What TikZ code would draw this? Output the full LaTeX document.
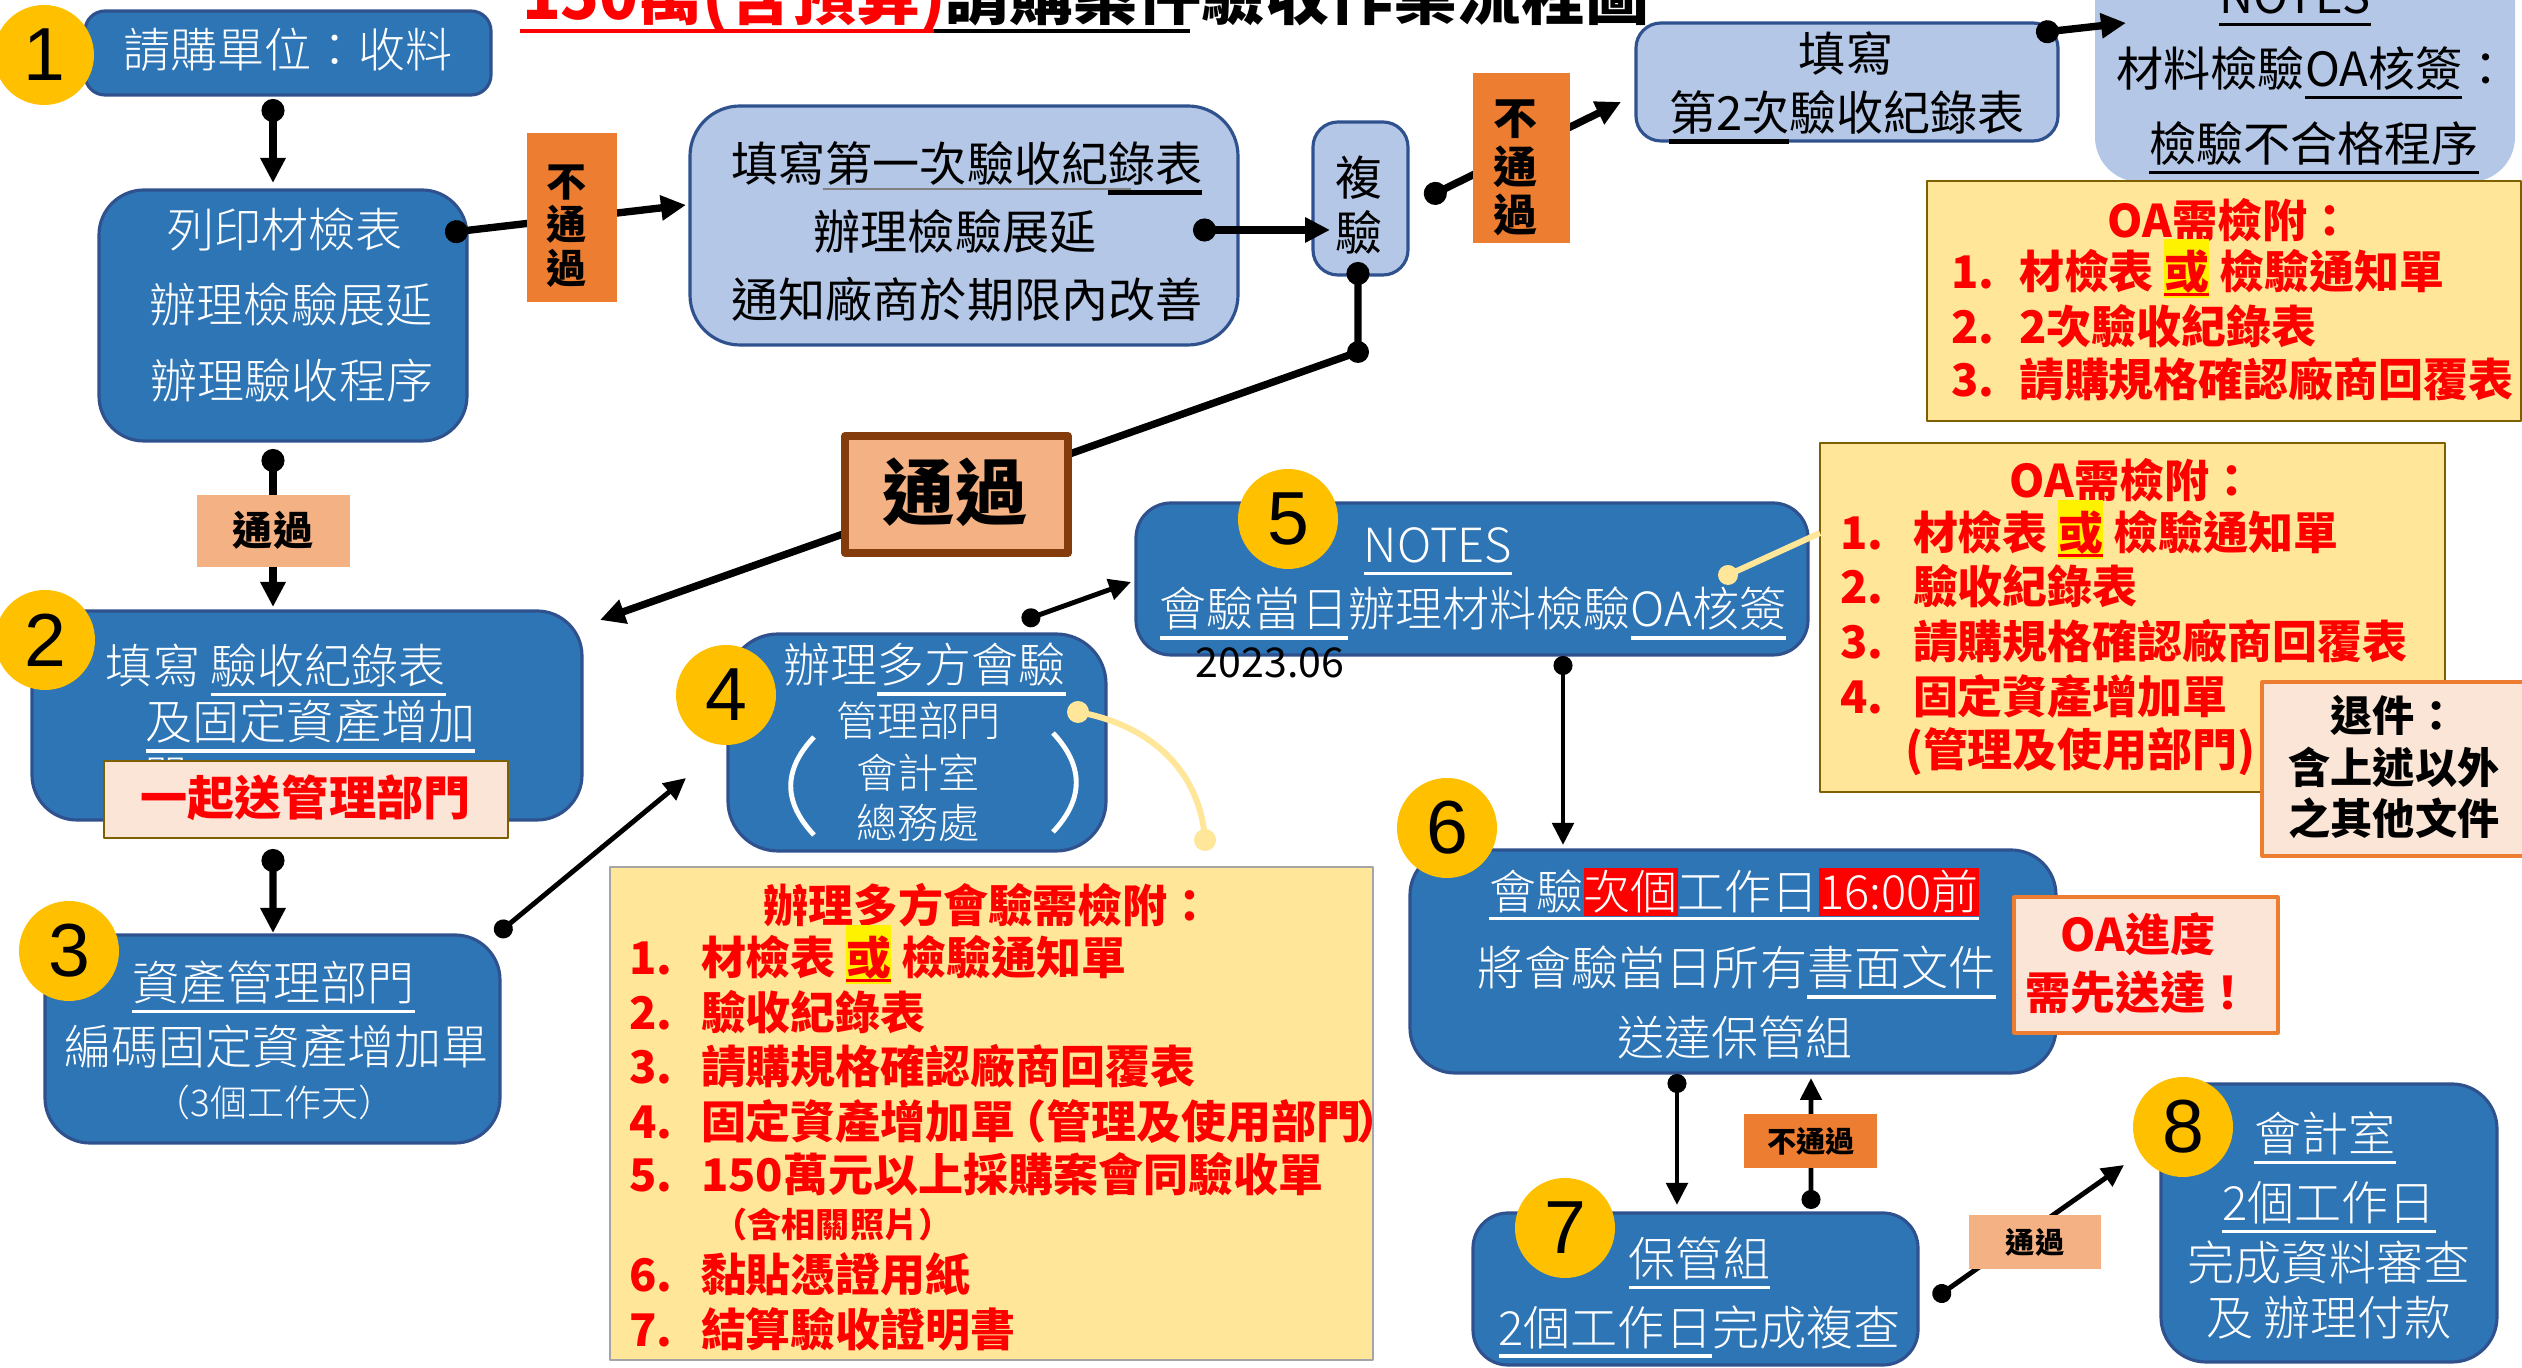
\documentclass[tikz,border=0pt]{standalone}
\usepackage{fontspec}
\usetikzlibrary{arrows.meta,fit,calc}
\setmainfont{Noto Sans CJK TC}
\IfFontExistsTF{Noto Sans CJK TC Light}
  {\newfontfamily\lightf{Noto Sans CJK TC Light}}
  {\newfontfamily\lightf{Noto Sans CJK TC}}
\newfontfamily\digf{Liberation Sans}
\definecolor{dblue}{HTML}{2E75B6}
\definecolor{dbord}{HTML}{2F528F}
\definecolor{lblue}{HTML}{B4C7E7}
\definecolor{circY}{HTML}{FFC000}
\definecolor{orng}{HTML}{ED7D31}
\definecolor{lorng}{HTML}{F4B183}
\definecolor{brwn}{HTML}{843C0C}
\definecolor{paley}{HTML}{FFE699}
\definecolor{dgold}{HTML}{7F6000}
\definecolor{pinkbg}{HTML}{FBE5D6}
\definecolor{ygray}{HTML}{A5A5A5}
\newcommand\ulx[3]{\leavevmode\setbox0\hbox{#3}\rlap{\smash{\raise-#1\hbox{\vrule width\wd0 height #2 depth 0pt}}}\box0}
\newcommand\uline[1]{\ulx{3.6pt}{0.9pt}{#1}}
\newcommand\thul[1]{\ulx{3.9pt}{1.4pt}{#1}}
\newcommand\orul[1]{\ulx{1.9pt}{0.9pt}{#1}}
\newcommand\hlY[1]{{\setlength{\fboxsep}{0pt}\colorbox{yellow}{\rule[-0.2em]{0pt}{1.32em}#1}}}
\newcommand\redbg[1]{{\setlength{\fboxsep}{0pt}\colorbox{red}{\rule[-0.13em]{0pt}{1.0em}#1}}}
\newcommand\fsz[2]{\fontsize{#1}{#2}\selectfont}
\begin{document}
\begin{tikzpicture}[x=0.1mm,y=-0.1mm,line join=round,
 every node/.style={inner sep=0pt,outer sep=0pt},
 bbox/.style={draw=dbord,fill=dblue,line width=0.9pt,rounded corners=4.5mm},
 lbox/.style={draw=dbord,fill=lblue,line width=0.9pt,rounded corners=4.5mm},
 ybox/.style={draw=dgold,fill=paley,line width=0.6pt},
 pbox/.style={draw=orng,fill=pinkbg,line width=0.9pt},
 numc/.style={circle,fill=circY,minimum size=10mm,font=\digf\fsz{21.4pt}{22pt}},
 wt/.style={text=white,font=\lightf\fsz{13.4pt}{16pt}},
 ws/.style={text=white,font=\lightf\fsz{11.7pt}{14pt}},
 bt/.style={text=black,font=\fsz{13.4pt}{16pt}},
 rb/.style={text=red,font=\bfseries\fsz{12.8pt}{15pt}},
 rbi/.style={rb,anchor=base west},
 kb/.style={text=black,font=\bfseries\fsz{12pt}{14pt}},
 lab/.style={fill=orng},
 labl/.style={fill=lorng},
 tc/.style={line width=2.1pt,{Circle[length=2.3mm]}-{Triangle[length=2.5mm,width=2.4mm]}},
 tn/.style={line width=1.4pt,{Circle[length=1.9mm]}-{Triangle[length=2.2mm,width=2.1mm]}},
 callout/.style={draw=paley,line width=1.7pt}]
\useasboundingbox (0,0) rectangle (2522,1368);
\fill[white] (0,0) rectangle (2522,1368);

% title
\node[anchor=base west,font=\bfseries\fsz{18.2pt}{20pt}] (title) at (522,20) {\textcolor{red}{150萬(含預算)}請購案件驗收作業流程圖};
\draw[red,line width=0.9pt] (520,31) -- (934,31);
\draw[black,line width=0.9pt] (934,31) -- (1190,31);

% boxes
\node[bbox,rounded corners=2mm,fit={(85,11)(491,95)}] (b1) {};
\node[bbox,fit={(99,190)(467,441)}] (b2) {};
\node[lbox,rounded corners=5mm,fit={(690,106)(1238,345)}] (lb1) {};
\node[lbox,rounded corners=2.5mm,fit={(1313,122)(1408,275)}] (fx) {};
\node[lbox,rounded corners=2.5mm,fit={(1636,23)(2058,141)}] (lb2) {};
\node[lbox,draw=none,fit={(2095,-80)(2515,182)}] (nb) {};
\node[ybox,fit={(1927,181)(2521,421)}] (y1) {};
\node[bbox,fit={(32,611)(582,820)}] (b3) {};
\node[bbox,fit={(45,935)(500,1143)}] (b4) {};
\node[bbox,rounded corners=5mm,fit={(728,634)(1106,851)}] (b5) {};
\node[bbox,rounded corners=3.5mm,fit={(1136,503)(1808,655)}] (b6) {};
\node[ybox,fit={(1820,443)(2445,792)}] (y2) {};
\node[bbox,fit={(1410,850)(2056,1073)}] (b7) {};
\node[bbox,rounded corners=3.5mm,fit={(1473,1213)(1918,1365)}] (b8) {};
\node[bbox,fit={(2161,1084)(2497,1362)}] (b9) {};
\node[ybox,draw=ygray,fit={(610,867)(1373,1360)}] (y3) {};

% texts in boxes
\node[wt] (t1) at (288,50) {請購單位：收料};
\node[wt] (t2a) at (285,230) {列印材檢表};
\node[wt] (t2b) at (291,305) {辦理檢驗展延};
\node[wt] (t2c) at (292,381) {辦理驗收程序};
\node[bt] (t3a) at (967,163) {填寫第一次驗收紀\thul{錄表}};
\draw[gray,line width=0.4pt] (823,189) -- (1131,189);
\node[bt] (t3b) at (955,232) {辦理檢驗展延};
\node[bt] (t3c) at (967,299) {通知廠商於期限內改善};
\node[bt,align=center,font=\fsz{13.4pt}{15.6pt}] (t4) at (1359,205) {複\\驗};
\node[bt] (t5a) at (1846,53) {填寫};
\node[bt] (t5b) at (1847,112) {\thul{第2次}驗收紀錄表};
\node[bt] (t6a) at (2295,-4) {\uline{NOTES}};
\node[bt] (t6b) at (2313,68) {材料檢驗\uline{OA核簽}：};
\node[bt] (t6c) at (2314,143) {\uline{檢驗不合格程序}};

\node[wt] (t7a) at (276,665) {填寫 \uline{驗收紀錄表}};
\node[wt] (t7b) at (310.5,722) {\uline{及固定資產增加}};
\node[wt,anchor=west] (t7c) at (143,779) {單};

\node[wt] (t8a) at (273.5,982.5) {\uline{資產管理部門}};
\node[wt] (t8b) at (276.5,1047) {編碼固定資產增加單};
\node[wt,font=\lightf\fsz{10.5pt}{12pt}] (t8c) at (274.5,1102) {（3個工作天）};

\node[wt] (t9a) at (924.5,665) {辦理\uline{多方會驗}};
\node[ws] (t9b) at (918.5,721) {管理部門};
\node[ws] (t9c) at (918,773) {會計室};
\node[ws] (t9d) at (918,823) {總務處};
\draw[white,line width=1.4pt] (814,737) .. controls (783,770) and (783,802) .. (814,835);
\draw[white,line width=1.4pt] (1053,733) .. controls (1084,766) and (1084,799) .. (1053,832);

\node[wt] (t10a) at (1438,545) {\uline{NOTES}};
\node[wt] (t10b) at (1473,609) {\uline{會驗當日}辦理材料檢驗\uline{OA核簽}};
\node[font=\fsz{11.7pt}{14pt}] (t10c) at (1270,663) {2023.06};

\node[wt] (t11a) at (1734,892) {會驗\redbg{次個}工作日\redbg{16:00前}};
\draw[white,line width=0.9pt] ($(t11a.south west)+(0,3)$) -- ($(t11a.south east)+(0,3)$);
\node[wt] (t11b) at (1736.5,968) {將會驗當日所有\uline{書面文件}};
\node[wt] (t11c) at (1735,1037) {送達保管組};

\node[wt] (t12a) at (1699.5,1258) {\uline{保管組}};
\node[wt] (t12b) at (1699.5,1327) {\uline{2個工作日}完成複查};

\node[wt] (t13a) at (2325,1133) {\uline{會計室}};
\node[wt] (t13b) at (2329,1203) {\uline{2個工作日}};
\node[wt] (t13c) at (2329,1262) {完成資料審查};
\node[wt] (t13d) at (2329,1318) {及 辦理付款};

% yellow note 1
\node[rb] (y1t) at (2230,220) {OA需檢附：};
\node[rbi] (y1n1) at (1951,289) {1.};
\node[rbi] (y1i1) at (2019,289) {材檢表 \hlY{\orul{或}} 檢驗通知單};
\node[rbi] (y1n2) at (1951,344) {2.};
\node[rbi] (y1i2) at (2019,344) {2次驗收紀錄表};
\node[rbi] (y1n3) at (1951,397) {3.};
\node[rbi] (y1i3) at (2019,397) {請購規格確認廠商回覆表};

% yellow note 2
\node[rb] (y2t) at (2132,480) {OA需檢附：};
\node[rbi] (y2n1) at (1840,550) {1.};
\node[rbi] (y2i1) at (1913,550) {材檢表 \hlY{\orul{或}} 檢驗通知單};
\node[rbi] (y2n2) at (1840,604) {2.};
\node[rbi] (y2i2) at (1913,604) {驗收紀錄表};
\node[rbi] (y2n3) at (1840,659) {3.};
\node[rbi] (y2i3) at (1913,659) {請購規格確認廠商回覆表};
\node[rbi] (y2n4) at (1840,714) {4.};
\node[rbi] (y2i4) at (1913,714) {固定資產增加單};
\node[rbi] (y2i5) at (1905,767) {(管理及使用部門)};

% yellow note 3
\node[rb] (y3t) at (988,905) {辦理多方會驗需檢附：};
\node[rbi] (y3n1) at (629,975) {1.};
\node[rbi] (y3i1) at (701,975) {材檢表 \hlY{\orul{或}} 檢驗通知單};
\node[rbi] (y3n2) at (629,1030) {2.};
\node[rbi] (y3i2) at (701,1030) {驗收紀錄表};
\node[rbi] (y3n3) at (629,1084) {3.};
\node[rbi] (y3i3) at (701,1084) {請購規格確認廠商回覆表};
\node[rbi] (y3n4) at (629,1139) {4.};
\node[rbi] (y3i4) at (701,1139) {固定資產增加單\kern-0.32em（管理及使用部門\kern-0.12em）};
\node[rbi] (y3n5) at (629,1192) {5.};
\node[rbi] (y3i5) at (701,1192) {150萬元以上採購案會同驗收單};
\node[rb,font=\bfseries\fsz{9.7pt}{11pt}] (y3i5b) at (833,1225) {（含相關照片）};
\node[rbi] (y3n6) at (629,1292) {6.};
\node[rbi] (y3i6) at (701,1292) {黏貼憑證用紙};
\node[rbi] (y3n7) at (629,1347) {7.};
\node[rbi] (y3i7) at (701,1347) {結算驗收證明書};

% pink boxes
\node[pbox,draw=dgold,line width=0.6pt,fit={(104,761)(508,838)}] (pk1) {};
\node[rb,font=\bfseries\fsz{13.4pt}{16pt}] (pt1) at (305.5,798) {一起送管理部門};
\node[pbox,fit={(2262,682)(2535,856)}] (pk2) {};
\node[kb] (k1) at (2394,715) {退件：};
\node[kb] (k2) at (2394,767) {含上述以外};
\node[kb] (k3) at (2394,818) {之其他文件};
\node[pbox,fit={(2014,897)(2278,1033)}] (pk3) {};
\node[rb] (o1) at (2138,934) {OA進度};
\node[rb] (o2) at (2138,992) {需先送達！};

% connectors
\draw[tc] ($(b1.south)+(-15,4)$) -- ($(b2.north)+(-10,-7)$);
\draw[tc] ($(b2.east)+(-22,-82.5)$) -- ($(lb1.west)+(-4,-20.5)$);
\draw[tc] ($(lb1.east)+(-45,4.5)$) -- ($(fx.west)+(17,31.5)$);
\draw[tc] ($(fx.east)+(17,0)$) -- ($(lb2.west)+(-15,20)$);
\draw[tc] ($(lb2.east)+(-22,-49)$) -- ($(nb.west)+(31,-28)$);
\draw[tc] ($(fx.south)+(-2.5,-13)$) -- ++(0,90) coordinate (fxc) -- ($(b3.north east)+(18,9)$);
\fill (fxc) circle (11);
\draw[tc] ($(b2.south)+(-10,8)$) -- ($(b3.north)+(-34,-4)$);
\draw[tc] ($(b3.south)+(-34,29)$) -- ($(b4.north)+(0.5,-2)$);
\draw[tn] ($(b4.north east)+(-4,0)$) -- ($(b5.west)+(-42,35.5)$);
\draw[tn] ($(b5.north)+(105,-13)$) -- ($(b6.west)+(-5,3)$);
\draw[tn] ($(b6.south)+(91,1)$) -- ($(b7.north)+(-170,-5)$);
\draw[tn] ($(b7.south)+(-56,1)$) -- ($(b8.north)+(-18.5,-8)$);
\draw[tn] ($(b8.north)+(115.5,-4)$) -- ($(b7.south)+(78,5)$);
\draw[tn] ($(b8.east)+(16,10)$) -- ($(b9.west)+(-37,-58)$);

% callouts
\coordinate (k1s) at ($(b5.east)+(-28,-30.5)$);
\coordinate (k1e) at ($(y3.north)+(213.5,-27)$);
\draw[callout] (k1s) .. controls +(72,13) and +(-5,-70) .. (k1e);
\fill[paley] (k1s) circle (11);
\fill[paley] (k1e) circle (11);
\coordinate (k2s) at ($(b6.east)+(-80,-4)$);
\coordinate (k2e) at ($(y2.west)+(0,-84.5)$);
\draw[callout] (k2s) -- (k2e);
\fill[paley] (k2s) circle (10);

% labels
\node[lab,fit={(527,133)(617,302)}] (L1) {};
\node[kb,align=center,font=\bfseries\fsz{11.4pt}{12.3pt}] (L1t) at (567,226) {不\\通\\過};
\node[lab,fit={(1473,73)(1570,243)}] (L2) {};
\node[kb,align=center,font=\bfseries\fsz{12.5pt}{13.8pt}] (L2t) at (1515,168) {不\\通\\過};
\node[labl,draw=brwn,line width=2.2pt,fit={(845,436)(1068,553)}] (Lb) {};
\node[kb,font=\bfseries\fsz{20.5pt}{22pt}] (Lbt) at (955,492) {通過};
\node[labl,fit={(197,495)(350,567)}] (Ls1) {};
\node[kb,font=\bfseries\fsz{11.4pt}{13pt}] (Ls1t) at (273,530) {通過};
\node[lab,fit={(1744,1114)(1877,1168)}] (Ls2) {};
\node[kb,font=\bfseries\fsz{8.3pt}{10pt}] (Ls2t) at (1811,1141) {不通過};
\node[labl,fit={(1969,1215)(2101,1269)}] (Ls3) {};
\node[kb,font=\bfseries\fsz{8.3pt}{10pt}] (Ls3t) at (2035,1242) {通過};

% number circles
\node[numc] (n1) at (44,55) {1};
\node[numc] (n2) at (45,640) {2};
\node[numc] (n3) at (69,951) {3};
\node[numc] (n4) at (726,695) {4};
\node[numc] (n5) at (1288,519) {5};
\node[numc] (n6) at (1447,828) {6};
\node[numc] (n7) at (1565,1228) {7};
\node[numc] (n8) at (2183,1127) {8};
\end{tikzpicture}
\end{document}
